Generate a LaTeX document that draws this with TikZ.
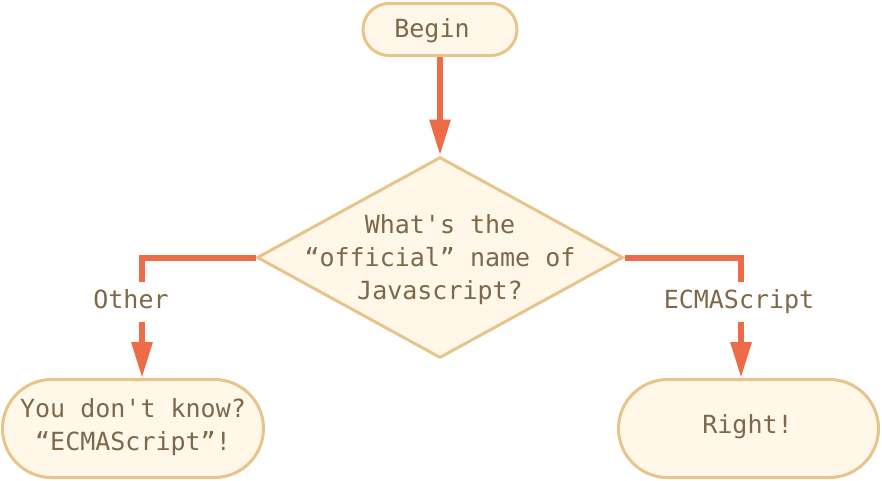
\documentclass[tikz,border=0pt]{standalone}
\usepackage{fontspec}
\setmonofont{DejaVu Sans Mono}
\usetikzlibrary{arrows.meta,shapes.geometric}
\definecolor{boxline}{HTML}{E8C48A}
\definecolor{boxfill}{HTML}{FFF7E8}
\definecolor{arrowc}{HTML}{EE6B47}
\definecolor{txtc}{HTML}{7D6849}
\tikzset{
  stadium/.style={draw=boxline, fill=boxfill, line width=3pt, rounded corners=#1, inner sep=0pt},
  diabox/.style={draw=boxline, fill=boxfill, line width=3pt, diamond, inner sep=0pt, minimum width=366pt, minimum height=201pt},
  txt/.style={text=txtc, font=\ttfamily\fontsize{25pt}{33pt}\selectfont, inner sep=0pt, anchor=base},
  conn/.style={draw=arrowc, line width=6pt},
  arr/.style={conn, -{Triangle[width=20pt,length=36pt]}}
}
\begin{document}
\begin{tikzpicture}[x=1pt,y=-1pt]
\useasboundingbox (0,0) rectangle (882,480);
\node[stadium=26pt, minimum width=154pt, minimum height=52pt] (b) at (440,29.5) {};
\node[txt] (bt) at (432,37) {Begin};
\node[diabox] (q) at (440,257.5) {};
\node[txt] (q1) at (440,233) {What's the};
\node[txt] (q2) at (440,266) {“official” name of};
\node[txt] (q3) at (440,299) {Javascript?};
\node[stadium=49pt, minimum width=261pt, minimum height=98pt] (l) at (133,428.5) {};
\node[txt] (l1) at (133,417) {You don't know?};
\node[txt] (l2) at (133,450) {“ECMAScript”!};
\node[stadium=49pt, minimum width=260pt, minimum height=98pt] (r) at (748.5,428.5) {};
\node[txt] (rt) at (747.5,433) {Right!};
\node[txt] (ol) at (131,308) {Other};
\node[txt] (el) at (739,308) {ECMAScript};
\coordinate (lk) at (142,282);
\coordinate (ls) at (142,322);
\coordinate (rk) at (741,282);
\coordinate (rs) at (741,322);
\draw[arr] (b.south) -- (q.north);
\draw[conn] (q.west) -| (lk);
\draw[arr] (ls) -- (ls |- l.north);
\draw[conn] (q.east) -| (rk);
\draw[arr] (rs) -- (rs |- r.north);
\end{tikzpicture}
\end{document}
